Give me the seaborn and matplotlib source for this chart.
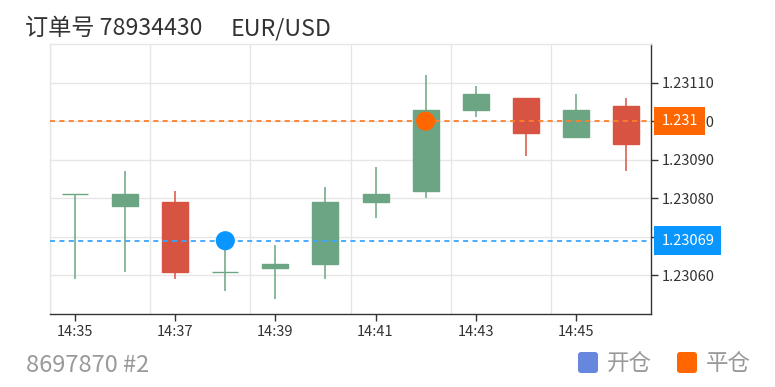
import numpy as np
import pandas as pd
import matplotlib
matplotlib.use("Agg")
import matplotlib.pyplot as plt
import matplotlib.transforms as mtransforms
from matplotlib.patches import FancyBboxPatch
import seaborn as sns

# ---------------- data ----------------
times = ["14:35", "14:36", "14:37", "14:38", "14:39", "14:40",
         "14:41", "14:42", "14:43", "14:44", "14:45", "14:46"]
opens = [1.23081, 1.23078, 1.23079, 1.23061, 1.23062, 1.23063,
         1.23079, 1.23082, 1.23103, 1.23106, 1.23096, 1.23104]
closes = [1.23081, 1.23081, 1.23061, 1.23061, 1.23063, 1.23079,
          1.23081, 1.23103, 1.23107, 1.23097, 1.23103, 1.23094]
highs = [1.23081, 1.23087, 1.23082, 1.23069, 1.23068, 1.23083,
         1.23088, 1.23112, 1.23109, 1.23106, 1.23107, 1.23106]
lows = [1.23059, 1.23061, 1.23059, 1.23056, 1.23054, 1.23059,
        1.23075, 1.23080, 1.23101, 1.23091, 1.23096, 1.23087]

open_time, open_price, open_label = "14:38", 1.23069, "1.23069"
close_time, close_price, close_label = "14:42", 1.2310, "1.231"

y_ticks = [1.23060, 1.23070, 1.23080, 1.23090, 1.23100, 1.23110]
x_tick_labels = ["14:35", "14:37", "14:39", "14:41", "14:43", "14:45"]

title_order = "订单号 78934430"
title_symbol = "EUR/USD"
account_text = "8697870 #2"
legend_labels = ["开仓", "平仓"]

# ---------------- style ----------------
sns.set_theme(style="white")
plt.rcParams["font.family"] = ["Noto Sans CJK SC", "DejaVu Sans"]

UP = "#6ba583"
DOWN = "#d75442"
BLUE = "#0a96ff"
ORANGE = "#ff6600"
LEG_BLUE = "#6687dd"
GRID = "#e6e6e6"
DARK = "#333333"
GRAY = "#999999"

W, H = 775, 387
fig = plt.figure(figsize=(W / 100, H / 100), dpi=100)
ax = fig.add_axes([50 / W, 1 - 314 / H, 601 / W, 270 / H])

df = pd.DataFrame({"time": times, "open": opens, "close": closes,
                   "high": highs, "low": lows})
df["x"] = np.arange(len(df))
df["up"] = df["close"] >= df["open"]
df["color"] = np.where(df["up"], UP, DOWN)
df["bottom"] = df[["open", "close"]].min(axis=1)
df["height"] = (df["close"] - df["open"]).abs()

# grid
for gx in np.arange(-0.5, len(df) - 1, 2):
    ax.axvline(gx, color=GRID, lw=1, zorder=0)
ax.set_yticks(y_ticks)
ax.yaxis.grid(True, color=GRID, lw=1, zorder=0)
ax.set_axisbelow(True)

# wicks and bodies
ax.vlines(df["x"], df["low"], df["high"], colors=df["color"], lw=1.1, zorder=2)
ax.bar(df["x"], df["height"], bottom=df["bottom"], width=0.52,
       color=df["color"], edgecolor=df["color"], linewidth=1.0, zorder=3)

# reference lines
ax.axhline(open_price, color="#3aa6ff", lw=1.3, ls=(0, (2.8, 2.4)), zorder=4)
ax.axhline(close_price, color="#ff7f2a", lw=1.3, ls=(0, (2.8, 2.4)), zorder=4)

# trade markers
mk = pd.DataFrame({"x": [times.index(open_time), times.index(close_time)],
                   "y": [open_price, close_price],
                   "kind": legend_labels})
sns.scatterplot(data=mk, x="x", y="y", hue="kind",
                palette={legend_labels[0]: BLUE, legend_labels[1]: ORANGE},
                s=190, linewidth=0, ax=ax, zorder=6, legend=False)

# axes
ax.set_xlim(-0.5, len(df) - 0.5)
ax.set_ylim(1.23050, 1.23120)
ax.set_xticks([times.index(t) for t in x_tick_labels])
ax.set_xticklabels(x_tick_labels)
ax.set_yticklabels([f"{v:.5f}" for v in y_ticks])
ax.yaxis.tick_right()
ax.set_xlabel("")
ax.set_ylabel("")
ax.tick_params(axis="x", bottom=True, length=5, width=1, color=DARK,
               labelsize=10.5, labelcolor=DARK, pad=3)
ax.tick_params(axis="y", right=True, left=False, length=5, width=1,
               color=DARK, labelsize=10.5, labelcolor=DARK, pad=3)
for s in ["left", "top"]:
    ax.spines[s].set_color(GRID)
    ax.spines[s].set_linewidth(1)
for s in ["right", "bottom"]:
    ax.spines[s].set_color(DARK)
    ax.spines[s].set_linewidth(1)

# price labels on the right axis
trans = mtransforms.blended_transform_factory(ax.transAxes, ax.transData)
for val, lab, col in [(close_price, close_label, ORANGE),
                      (open_price, open_label, BLUE)]:
    ax.annotate(lab, xy=(1, val), xycoords=trans, xytext=(7.4, 0),
                textcoords="offset points", ha="left", va="center",
                color="white", fontsize=10.5, zorder=10, annotation_clip=False,
                bbox=dict(boxstyle="square,pad=0.5", fc=col, ec="none"))

# titles
fig.text(25 / W, 1 - 35 / H, title_order, fontsize=16.7, color=DARK,
         va="baseline", ha="left")
fig.text(231 / W, 1 - 35 / H, title_symbol, fontsize=16.7, color=DARK,
         va="baseline", ha="left")
fig.text(26 / W, 1 - 372 / H, account_text, fontsize=17, color=GRAY,
         va="baseline", ha="left")

# legend
for (lx, col), lab in zip([(578, LEG_BLUE), (677, ORANGE)], legend_labels):
    fig.add_artist(FancyBboxPatch((lx, H - 373), 20, 21,
                                  boxstyle="round,pad=0,rounding_size=3",
                                  fc=col, ec="none", transform=None))
    fig.text((lx + 29) / W, 1 - 363 / H, lab, fontsize=16.2, color=GRAY,
             va="center", ha="left")

fig.savefig("out.png", dpi=100)
